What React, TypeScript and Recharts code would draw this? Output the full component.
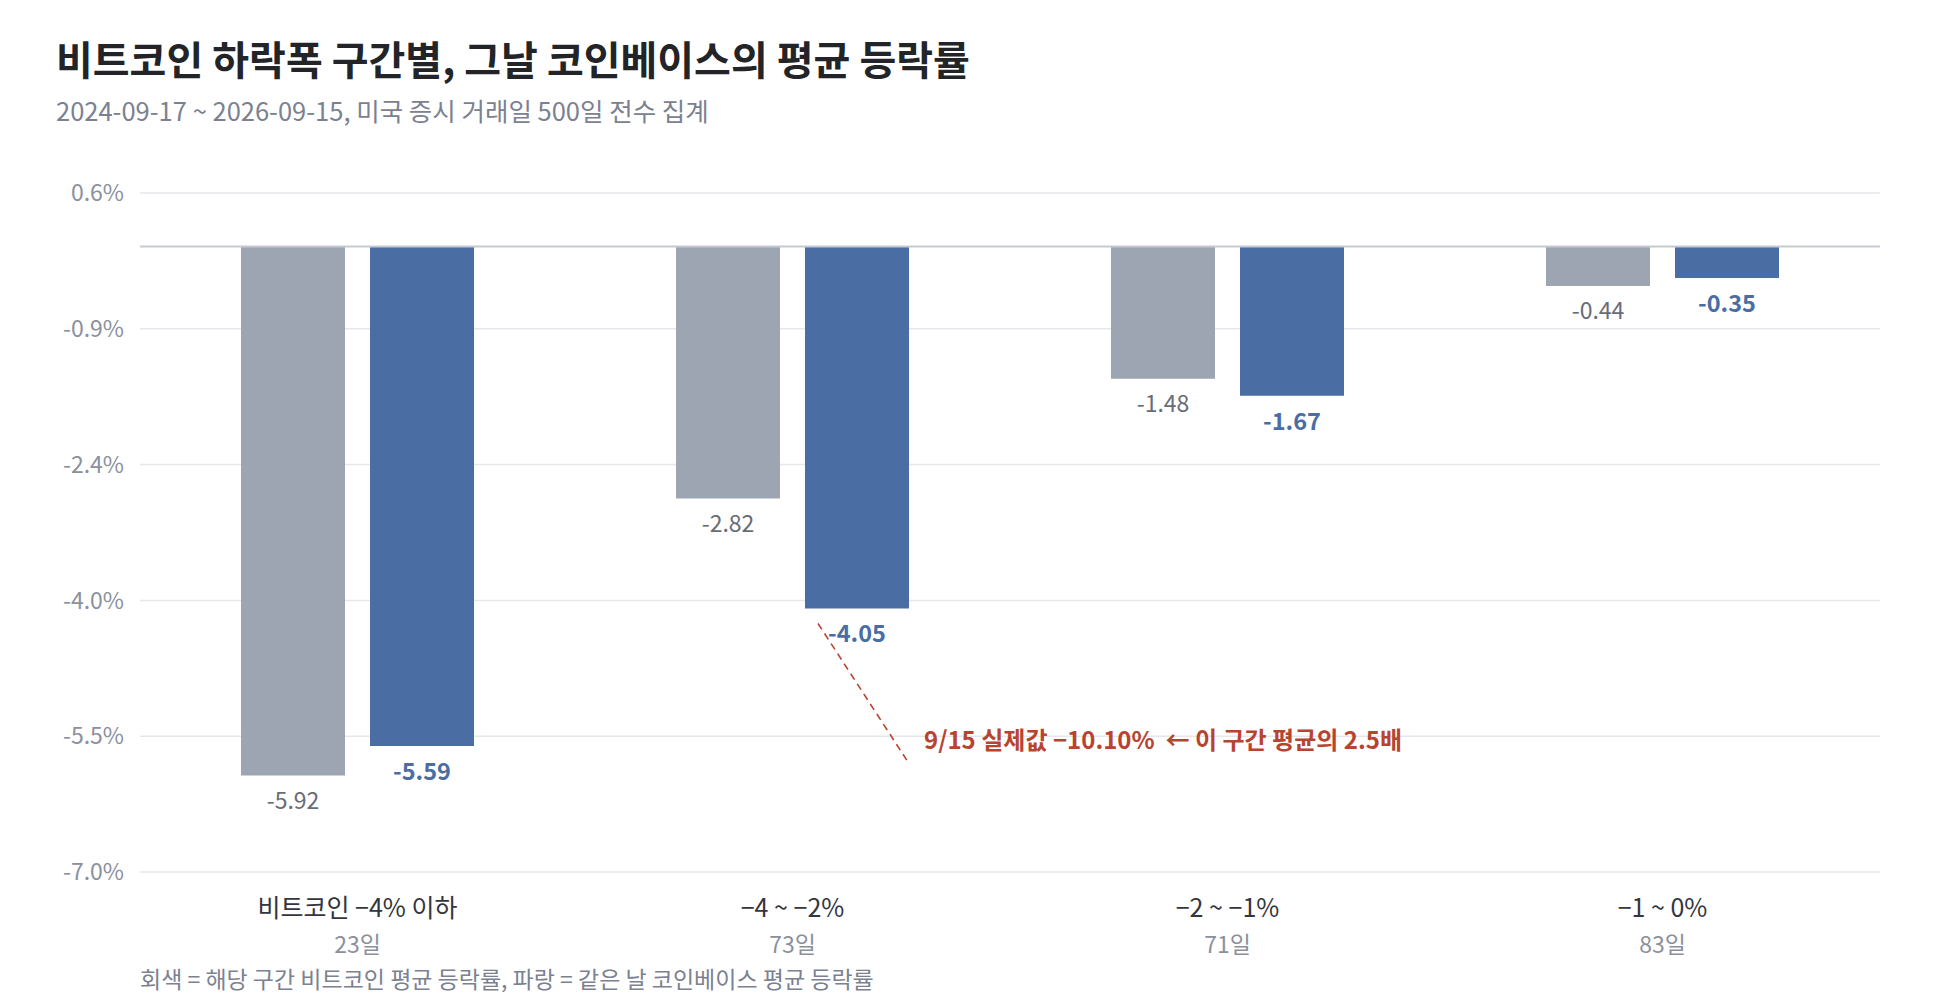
import React from 'react';
import { BarChart, Bar, XAxis, YAxis, CartesianGrid, ReferenceLine, LabelList } from 'recharts';

const categories = ['비트코인 −4% 이하', '−4 ~ −2%', '−2 ~ −1%', '−1 ~ 0%'];
const dayCounts = [23, 73, 71, 83];
const btcAvg = [-5.92, -2.82, -1.48, -0.44];
const coinbaseAvg = [-5.59, -4.05, -1.67, -0.35];
const yTicks = [0.6, -0.92, -2.44, -3.96, -5.48, -7.0];
const yDomain = [-7.0, 0.6];
const annotationIndex = 1;
const annotationText = '9/15 실제값 −10.10%\u00a0\u00a0← 이 구간 평균의 2.5배';

const title = '비트코인 하락폭 구간별, 그날 코인베이스의 평균 등락률';
const subtitle = '2024-09-17 ~ 2026-09-15, 미국 증시 거래일 500일 전수 집계';
const footnote = '회색 = 해당 구간 비트코인 평균 등락률, 파랑 = 같은 날 코인베이스 평균 등락률';

const data = categories.map((c, i) => ({
  category: c,
  days: dayCounts[i],
  btc: btcAvg[i],
  coin: coinbaseAvg[i],
}));

const FONT = '"Noto Sans CJK KR", "Noto Sans", sans-serif';
const GRAY = '#9ca5b1';
const BLUE = '#4a6ea3';
const RED = '#b8432f';

function rectOf(props: any) {
  const vb = props.viewBox && props.viewBox.width != null ? props.viewBox : props;
  const x = Number(vb.x);
  const y = Number(vb.y);
  const w = Number(vb.width);
  const h = Number(vb.height);
  return { x, w, top: Math.min(y, y + h), bottom: Math.max(y, y + h) };
}

const GrayLabel = (props: any) => {
  const { x, w, bottom } = rectOf(props);
  return (
    <text x={x + w / 2} y={bottom + 23} textAnchor="middle" dominantBaseline="central"
      fontFamily={FONT} fontSize={23} fill="#676c76">
      {Number(props.value).toFixed(2)}
    </text>
  );
};

const BlueLabel = (props: any) => {
  const { x, w, bottom } = rectOf(props);
  return (
    <g>
      <text x={x + w / 2} y={bottom + 24} textAnchor="middle" dominantBaseline="central"
        fontFamily={FONT} fontSize={23.5} fontWeight={700} fill={BLUE}>
        {Number(props.value).toFixed(2)}
      </text>
      {props.index === annotationIndex && (
        <g>
          <line x1={x + 13} y1={bottom + 15} x2={x + 102} y2={bottom + 152}
            stroke={RED} strokeWidth={1.6} strokeDasharray="7 5" />
          <text x={x + 119} y={bottom + 130} dominantBaseline="central"
            fontFamily={FONT} fontSize={24} fontWeight={700} fill={RED}>
            {annotationText}
          </text>
        </g>
      )}
    </g>
  );
};

const CategoryTick = (props: any) => {
  const { x, y, payload } = props;
  const i = payload.index;
  return (
    <g>
      <text x={x} y={y + 34} textAnchor="middle" dominantBaseline="central"
        fontFamily={FONT} fontSize={25} fill="#33363d">
        {payload.value}
      </text>
      <text x={x} y={y + 71} textAnchor="middle" dominantBaseline="central"
        fontFamily={FONT} fontSize={23} fill="#8b909d">
        {`${dayCounts[i]}일`}
      </text>
    </g>
  );
};

export default function App() {
  return (
    <div style={{ position: 'absolute', left: 0, top: 0, width: 1960, height: 1000, background: '#fff', fontFamily: FONT }}>
      <div style={{ position: 'absolute', left: 56, top: 38, fontSize: 40, lineHeight: '40px', fontWeight: 700, color: '#222428', whiteSpace: 'nowrap' }}>
        {title}
      </div>
      <div style={{ position: 'absolute', left: 56, top: 97, fontSize: 25.5, lineHeight: '25.5px', color: '#7b8190', whiteSpace: 'nowrap' }}>
        {subtitle}
      </div>
      <div style={{ position: 'absolute', left: 0, top: 0 }}>
        <BarChart width={1960} height={1000} data={data}
          margin={{ top: 193, right: 80, bottom: 38, left: 0 }} barGap={25}>
          <CartesianGrid vertical={false} stroke="#e6e7ec" strokeWidth={1.5} />
          <XAxis dataKey="category" interval={0} axisLine={false} tickLine={false}
            tickSize={0} tickMargin={0} height={90} tick={<CategoryTick />} />
          <YAxis domain={yDomain} ticks={yTicks} width={140} axisLine={false} tickLine={false}
            tickSize={0} tickMargin={16} interval={0}
            tickFormatter={(v: number) => `${v.toFixed(1)}%`}
            tick={{ fontFamily: FONT, fontSize: 23, fill: '#8b909d' }} />
          <Bar dataKey="btc" fill={GRAY} barSize={104} isAnimationActive={false}>
            <LabelList dataKey="btc" content={<GrayLabel />} />
          </Bar>
          <Bar dataKey="coin" fill={BLUE} barSize={104} isAnimationActive={false}>
            <LabelList dataKey="coin" content={<BlueLabel />} />
          </Bar>
          <ReferenceLine y={0} stroke="#c5c9d2" strokeWidth={2} />
        </BarChart>
      </div>
      <div style={{ position: 'absolute', left: 140, top: 964, fontSize: 23, lineHeight: '28px', color: '#7b8190', whiteSpace: 'nowrap' }}>
        {footnote}
      </div>
    </div>
  );
}
